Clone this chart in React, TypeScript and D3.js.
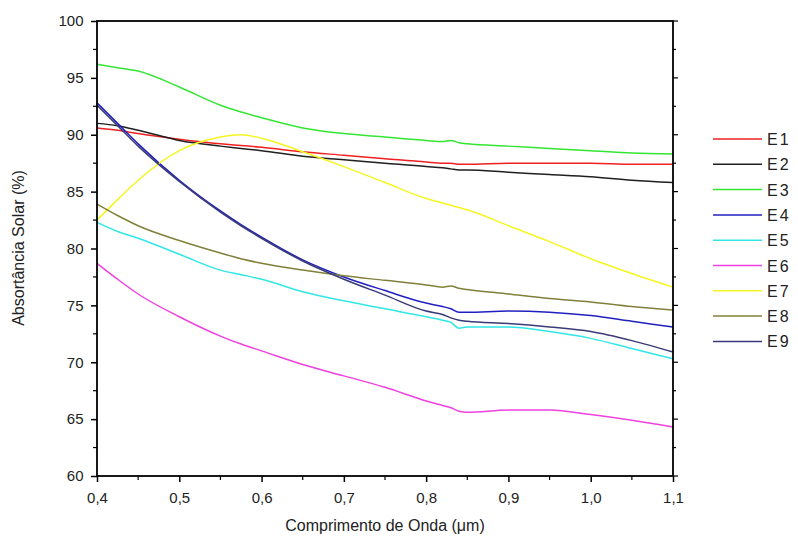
import { useEffect, useRef } from "react";
import * as d3 from "d3";

const wavelengths = [0.4, 0.425, 0.45, 0.5, 0.55, 0.575, 0.6, 0.65, 0.7, 0.75, 0.8, 0.82, 0.83, 0.84, 0.85, 0.9, 0.95, 1.0, 1.05, 1.1];

const e1 = [90.6, 90.4, 90.1, 89.6, 89.2, 89.05, 88.9, 88.5, 88.2, 87.9, 87.6, 87.5, 87.5, 87.4, 87.4, 87.5, 87.5, 87.5, 87.4, 87.4];
const e2 = [91.0, 90.8, 90.4, 89.5, 89.0, 88.8, 88.6, 88.1, 87.8, 87.5, 87.2, 87.1, 87.0, 86.9, 86.9, 86.7, 86.5, 86.3, 86.0, 85.8];
const e3 = [96.2, 95.9, 95.6, 94.2, 92.6, 92.0, 91.5, 90.6, 90.1, 89.8, 89.5, 89.4, 89.5, 89.3, 89.2, 89.0, 88.8, 88.6, 88.4, 88.3];
const e4 = [92.8, 91.0, 89.2, 86.0, 83.3, 82.1, 81.0, 79.0, 77.5, 76.3, 75.2, 74.9, 74.7, 74.4, 74.4, 74.5, 74.4, 74.1, 73.6, 73.1];
const e5 = [82.3, 81.5, 80.9, 79.5, 78.1, 77.7, 77.3, 76.2, 75.4, 74.7, 74.0, 73.7, 73.5, 73.0, 73.1, 73.1, 72.7, 72.1, 71.2, 70.3];
const e6 = [78.7, 77.3, 76.0, 74.0, 72.3, 71.6, 71.0, 69.8, 68.8, 67.8, 66.6, 66.2, 66.0, 65.7, 65.6, 65.8, 65.8, 65.4, 64.9, 64.3];
const e7 = [82.5, 84.3, 86.0, 88.6, 89.8, 90.0, 89.7, 88.5, 87.2, 85.8, 84.4, 84.0, 83.8, 83.6, 83.4, 82.0, 80.6, 79.1, 77.8, 76.6];
const e8 = [83.9, 82.9, 82.0, 80.7, 79.6, 79.1, 78.7, 78.1, 77.6, 77.2, 76.8, 76.6, 76.7, 76.5, 76.4, 76.0, 75.6, 75.3, 74.9, 74.6];
const e9 = [92.6, 90.8, 89.0, 85.9, 83.2, 82.0, 80.9, 78.9, 77.3, 75.9, 74.5, 74.2, 73.9, 73.7, 73.6, 73.4, 73.1, 72.7, 71.9, 70.9];

const seriesNames = ["E1", "E2", "E3", "E4", "E5", "E6", "E7", "E8", "E9"];
const seriesValues = [e1, e2, e3, e4, e5, e6, e7, e8, e9];
const seriesColors = ["#f02020", "#202020", "#33e633", "#2020c0", "#30e6e6", "#f040e0", "#f5f520", "#80803a", "#3a3a78"];

const xTicks = [0.4, 0.5, 0.6, 0.7, 0.8, 0.9, 1.0, 1.1];
const yTicks = [60, 65, 70, 75, 80, 85, 90, 95, 100];

const font = "'Liberation Sans', Arial, sans-serif";

export default function App() {
  const axesRef = useRef<SVGGElement>(null);

  const width = 798;
  const height = 542;
  const margins = { top: 21, left: 97, right: 125, bottom: 66 };
  const boundedWidth = width - margins.left - margins.right;
  const boundedHeight = height - margins.top - margins.bottom;

  const xScale = d3.scaleLinear().domain([0.4, 1.1]).range([0, boundedWidth]);
  const yScale = d3.scaleLinear().domain([60, 100]).range([boundedHeight, 0]);

  useEffect(() => {
    document.body.style.margin = "0";
    const g = d3.select(axesRef.current);
    g.selectAll("*").remove();

    const fmt = (d: d3.NumberValue) => d3.format(".1f")(+d).replace(".", ",");

    // bottom axis
    const xMinor = d3.range(0.45, 1.1, 0.1);
    const bx = g.append("g").attr("transform", `translate(0,${boundedHeight})`);
    bx.call(d3.axisBottom(xScale).tickValues(xTicks).tickFormat(fmt).tickSize(6).tickSizeOuter(0));
    bx.call((s) => s.select(".domain").remove());
    bx.selectAll("text").attr("font-size", 15).attr("font-family", font).attr("fill", "#222").attr("dy", "1.2em");
    bx.selectAll("line").attr("stroke-width", 1.5);
    bx.append("g")
      .selectAll("line")
      .data(xMinor)
      .join("line")
      .attr("x1", (d) => xScale(d))
      .attr("x2", (d) => xScale(d))
      .attr("y1", 0)
      .attr("y2", 4)
      .attr("stroke", "#000")
      .attr("stroke-width", 1.2);

    // left axis
    const yMinor = d3.range(62.5, 100, 5);
    const ly = g.append("g");
    ly.call(d3.axisLeft(yScale).tickValues(yTicks).tickSize(6).tickSizeOuter(0));
    ly.call((s) => s.select(".domain").remove());
    ly.selectAll("text").attr("font-size", 15).attr("font-family", font).attr("fill", "#222").attr("dx", "-0.3em");
    ly.selectAll("line").attr("stroke-width", 1.5);
    ly.append("g")
      .selectAll("line")
      .data(yMinor)
      .join("line")
      .attr("x1", 0)
      .attr("x2", -4)
      .attr("y1", (d) => yScale(d))
      .attr("y2", (d) => yScale(d))
      .attr("stroke", "#000")
      .attr("stroke-width", 1.2);

    // right mirror ticks
    const ry = g.append("g").attr("transform", `translate(${boundedWidth},0)`);
    ry.selectAll("line")
      .data([...yTicks, ...yMinor])
      .join("line")
      .attr("x1", 0)
      .attr("x2", (d) => (d % 5 === 0 ? 5 : 3))
      .attr("y1", (d) => yScale(d))
      .attr("y2", (d) => yScale(d))
      .attr("stroke", "#000")
      .attr("stroke-width", 1.2);

    // frame
    g.append("rect")
      .attr("width", boundedWidth)
      .attr("height", boundedHeight)
      .attr("fill", "none")
      .attr("stroke", "#000")
      .attr("stroke-width", 1.8);
  }, [xScale, yScale, boundedHeight, boundedWidth]);

  const lineBuilder = d3
    .line<number>()
    .x((_, i) => xScale(wavelengths[i]))
    .y((d) => yScale(d))
    .curve(d3.curveMonotoneX);

  return (
    <svg width={width} height={height} style={{ display: "block", background: "#fff" }}>
      <g transform={`translate(${margins.left},${margins.top})`}>
        {seriesValues.map((vals, i) => (
          <path key={seriesNames[i]} d={lineBuilder(vals) || ""} fill="none" stroke={seriesColors[i]} strokeWidth={1.5} />
        ))}
      </g>
      <g ref={axesRef} transform={`translate(${margins.left},${margins.top})`} />
      <g transform="translate(713,139)">
        {seriesNames.map((name, i) => (
          <g key={name} transform={`translate(0,${i * 25.3})`}>
            <line x1={0} x2={49} y1={0} y2={0} stroke={seriesColors[i]} strokeWidth={1.5} />
            <text x={54} y={6} fontSize={16} fontFamily={font} fill="#222" letterSpacing={2}>
              {name}
            </text>
          </g>
        ))}
      </g>
      <text
        transform="translate(24,248) rotate(-90)"
        textAnchor="middle"
        fontSize={16}
        fontFamily={font}
        fill="#222"
      >
        Absortância Solar (%)
      </text>
      <text x={385} y={531} textAnchor="middle" fontSize={16} fontFamily={font} fill="#222">
        Comprimento de Onda (μm)
      </text>
    </svg>
  );
}
